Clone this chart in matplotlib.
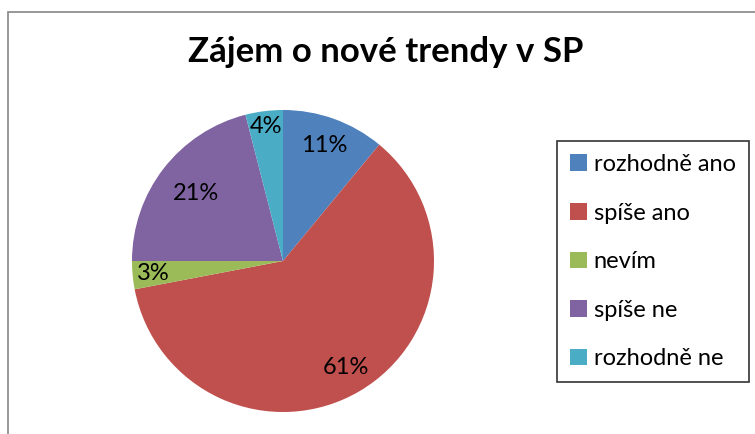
import numpy as np
import matplotlib
matplotlib.use('Agg')
import matplotlib.pyplot as plt
from matplotlib.patches import Rectangle, Patch

plt.rcParams['font.family'] = ['Lato', 'DejaVu Sans']

# data
title = 'Zájem o nové trendy v SP'
labels = ['rozhodně ano', 'spíše ano', 'nevím', 'spíše ne', 'rozhodně ne']
values = [11, 61, 3, 21, 4]
colors = ['#4F81BD', '#C0504D', '#9BBB59', '#8064A2', '#4BACC6']
# label distance from centre (fraction of radius), Excel "best fit"-like
label_r = [0.81, 0.82, 0.86, 0.73, 0.90]

W, H = 755, 434
fig = plt.figure(figsize=(W / 100, H / 100), dpi=100)

# outer chart border
fig.patches.append(Rectangle((8 / W, -0.05), 1.1, 1 - 12 / H + 0.05,
                             transform=fig.transFigure, fill=False,
                             edgecolor='#868686', linewidth=1.2))

cx, cy, r = 283, 261, 151
ax = fig.add_axes([(cx - r) / W, (H - cy - r) / H, 2 * r / W, 2 * r / H])
wedges, _ = ax.pie(values, colors=colors, startangle=90, counterclock=False,
                   radius=1, wedgeprops=dict(linewidth=0))
ax.set_xlim(-1, 1)
ax.set_ylim(-1, 1)
ax.set_aspect('equal')
ax.axis('off')

# percentage labels
total = sum(values)
start = 90.0
for v, lr in zip(values, label_r):
    span = 360.0 * v / total
    mid = np.deg2rad(start - span / 2)
    ax.text(lr * np.cos(mid), lr * np.sin(mid), f'{round(100 * v / total)}%',
            ha='center', va='center', fontsize=17, color='black')
    start -= span

fig.text(386 / W, 1 - 52 / H, title, ha='center', va='center',
         fontsize=25, fontweight='bold')

handles = [Patch(facecolor=c, edgecolor='none') for c in colors]
leg = fig.legend(handles, labels, loc='upper left',
                 bbox_to_anchor=(557 / W, 1 - 141 / H),
                 fontsize=17, frameon=True, fancybox=False,
                 edgecolor='black', handlelength=0.7, handleheight=0.7,
                 handletextpad=0.3, labelspacing=1.17, borderpad=0.55,
                 borderaxespad=0)
leg.get_frame().set_linewidth(1.2)

fig.savefig('out.png', dpi=100)
